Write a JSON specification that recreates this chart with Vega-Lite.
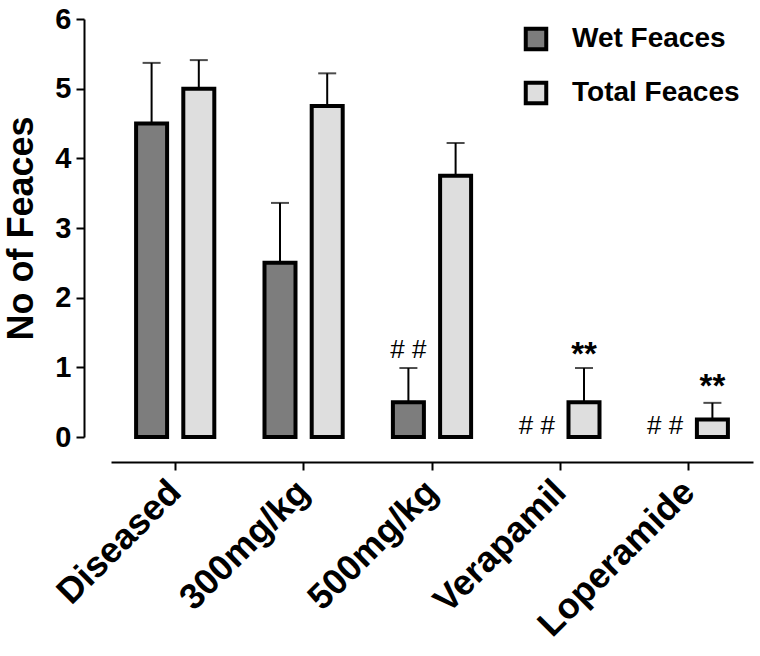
{
  "$schema": "https://vega.github.io/schema/vega-lite/v6.json",
  "width": 642,
  "height": 418,
  "autosize": "none",
  "padding": {"left": 111, "top": 19, "right": 7, "bottom": 219},
  "background": "white",
  "config": {
    "view": {"stroke": null},
    "font": "Liberation Sans",
    "axis": {"grid": false, "domainColor": "black", "tickColor": "black", "labelColor": "black", "titleColor": "black", "domainWidth": 2, "tickWidth": 2}
  },
  "datasets": {
    "bars": [
      {"group": "Diseased", "series": "Wet Feaces", "value": 4.5, "upper": 5.37},
      {"group": "Diseased", "series": "Total Feaces", "value": 5.0, "upper": 5.41},
      {"group": "300mg/kg", "series": "Wet Feaces", "value": 2.5, "upper": 3.36},
      {"group": "300mg/kg", "series": "Total Feaces", "value": 4.75, "upper": 5.22},
      {"group": "500mg/kg", "series": "Wet Feaces", "value": 0.5, "upper": 0.99},
      {"group": "500mg/kg", "series": "Total Feaces", "value": 3.75, "upper": 4.22},
      {"group": "Verapamil", "series": "Total Feaces", "value": 0.5, "upper": 0.99},
      {"group": "Loperamide", "series": "Total Feaces", "value": 0.25, "upper": 0.49}
    ],
    "notes": [
      {"group": "500mg/kg", "series": "Wet Feaces", "y": 1.13, "label": "# #", "kind": "hash"},
      {"group": "Verapamil", "series": "Wet Feaces", "y": 0.04, "label": "# #", "kind": "hash"},
      {"group": "Loperamide", "series": "Wet Feaces", "y": 0.04, "label": "# #", "kind": "hash"},
      {"group": "Verapamil", "series": "Total Feaces", "y": 1.03, "label": "**", "kind": "star"},
      {"group": "Loperamide", "series": "Total Feaces", "y": 0.57, "label": "**", "kind": "star"}
    ]
  },
  "encoding": {
    "x": {
      "field": "group", "type": "nominal",
      "sort": ["Diseased", "300mg/kg", "500mg/kg", "Verapamil", "Loperamide"],
      "scale": {"domain": ["Diseased", "300mg/kg", "500mg/kg", "Verapamil", "Loperamide"], "paddingInner": 0, "paddingOuter": 0},
      "axis": {"title": null, "offset": 25, "labelAngle": -45, "labelAlign": "right", "labelBaseline": "middle", "labelFontSize": 36, "labelFontWeight": "bold", "labelPadding": 16, "tickSize": 8, "labelOverlap": false, "labelLimit": 400}
    },
    "xOffset": {
      "field": "series", "type": "nominal",
      "scale": {"domain": ["Wet Feaces", "Total Feaces"], "paddingInner": 0.32, "paddingOuter": 0.52}
    }
  },
  "layer": [
    {
      "data": {"name": "bars"},
      "mark": {"type": "rule", "color": "black", "strokeWidth": 2},
      "encoding": {
        "y": {"field": "value", "type": "quantitative"},
        "y2": {"field": "upper"}
      }
    },
    {
      "data": {"name": "bars"},
      "mark": {"type": "tick", "orient": "horizontal", "color": "black", "thickness": 2, "size": 18},
      "encoding": {
        "y": {"field": "upper", "type": "quantitative"}
      }
    },
    {
      "data": {"name": "bars"},
      "mark": {"type": "bar", "stroke": "black", "strokeWidth": 4, "width": 31},
      "encoding": {
        "y": {
          "field": "value", "type": "quantitative", "stack": null,
          "scale": {"domain": [0, 6], "nice": false},
          "axis": {"title": "No of Feaces", "titleFontSize": 36, "titleFontWeight": "bold", "titlePadding": 14, "offset": 27, "values": [0, 1, 2, 3, 4, 5, 6], "format": "d", "labelFontSize": 29, "labelFontWeight": "bold", "tickSize": 8, "labelPadding": 5}
        },
        "fill": {
          "field": "series", "type": "nominal",
          "scale": {"domain": ["Wet Feaces", "Total Feaces"], "range": ["#7d7d7d", "#dedede"]},
          "legend": {
            "title": null, "orient": "none", "legendX": 411, "legendY": 6,
            "symbolType": "square", "symbolSize": 420, "symbolStrokeColor": "black", "symbolStrokeWidth": 4,
            "labelFontSize": 28, "labelFontWeight": "bold", "labelColor": "black", "labelLimit": 300, "rowPadding": 16, "labelOffset": 22
          }
        }
      }
    },
    {
      "data": {"name": "notes"},
      "transform": [{"filter": "datum.kind === 'hash'"}],
      "mark": {"type": "text", "fontSize": 26, "baseline": "alphabetic", "color": "black"},
      "encoding": {
        "y": {"field": "y", "type": "quantitative"},
        "text": {"field": "label"}
      }
    },
    {
      "data": {"name": "notes"},
      "transform": [{"filter": "datum.kind === 'star'"}],
      "mark": {"type": "text", "fontSize": 33, "fontWeight": "bold", "baseline": "alphabetic", "color": "black"},
      "encoding": {
        "y": {"field": "y", "type": "quantitative"},
        "text": {"field": "label"}
      }
    }
  ]
}
